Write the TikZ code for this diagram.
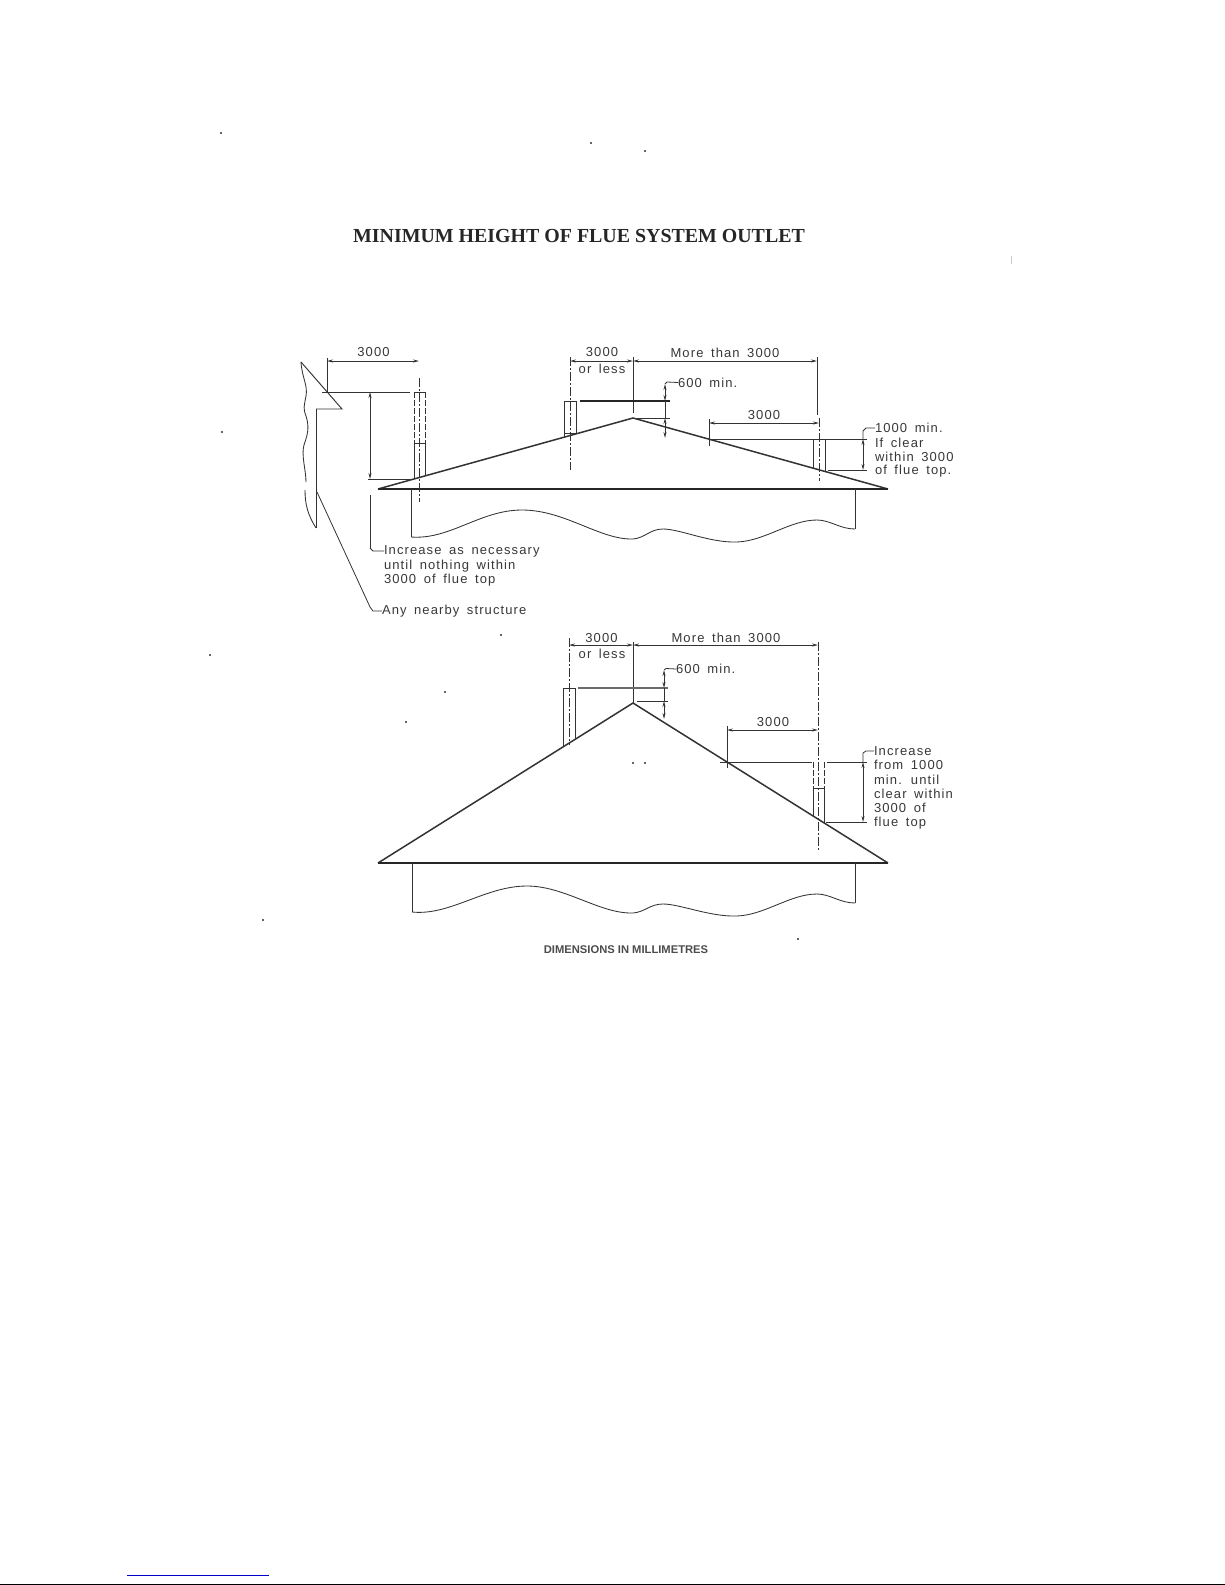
\documentclass[tikz,border=0pt]{standalone}
\usepackage{fontspec}
\setmainfont{Liberation Sans}
\newfontfamily\titlefont{Liberation Serif}
\newfontfamily\dimfont[LetterSpace=8.5,WordSpace=1.6]{Liberation Sans}
\usetikzlibrary{arrows.meta}
\definecolor{ink}{gray}{0.2}
\definecolor{soft}{gray}{0.42}
\tikzset{
  x=1pt,y=-1pt,
  lineart/.style={draw=ink,line width=0.95pt,line join=miter},
  roofline/.style={draw=ink,line width=1.5pt,line join=miter},
  strong/.style={draw=black!85,line width=1.5pt},
  thin line/.style={draw=ink,line width=0.8pt},
  chain/.style={draw=ink,line width=0.8pt,dash pattern=on 9pt off 2pt on 2pt off 2pt},
  hid/.style={draw=ink,line width=0.95pt,dash pattern=on 6pt off 2pt},
  dimline/.style={draw=ink,line width=0.8pt,{Stealth[length=6pt,width=3pt]}-{Stealth[length=6pt,width=3pt]}},
  wave/.style={draw=ink,line width=0.85pt},
  lab/.style={inner sep=0pt,outer sep=0pt,text=black!78,font=\dimfont\fontsize{13}{14}\selectfont},
  lableft/.style={lab,anchor=west},
  speck/.style={fill=black!60,draw=none},
}
\newcommand{\spk}[2]{\fill[speck] (#1-0.7,#2-0.7) rectangle (#1+0.7,#2+0.7);}
\begin{document}
\begin{tikzpicture}
\useasboundingbox (0,0) rectangle (1225,1585);
\fill[white] (0,0) rectangle (1225,1585);

\node[inner sep=0pt,text=black!85,font=\titlefont\bfseries\fontsize{19.9}{24}\selectfont] (title) at (579,236) {MINIMUM HEIGHT OF FLUE SYSTEM OUTLET};

% ---------- nearby structure
\draw[lineart] (301,362) -- (342,409) -- (316,409);
\draw[lineart] (316,409) -- (316,528);
\draw[wave] (301,362) .. controls (302,378) and (308,385) .. (306,396) .. controls (304,407) and (303,408) .. (306,416) .. controls (310,428) and (307,436) .. (304,445) .. controls (301,455) and (306,470) .. (306,482);
\draw[wave] (305,490) .. controls (305,505) and (308,515) .. (316,528);
% first diagram: roof
\draw[roofline] (378,489) -- (633,418) -- (888,489);
\draw[strong] (378,489) -- (888,489);
\draw[lineart] (411,489) -- (411,537);
\draw[wave] (411,537) .. controls (450,540) and (480,510) .. (522,510) .. controls (565,510) and (600,540) .. (633,539) .. controls (645,538) and (650,529) .. (663,529) .. controls (680,529) and (710,543) .. (737,542) .. controls (765,541) and (790,520) .. (817,520) .. controls (830,520) and (840,529) .. (855,529);
\draw[lineart] (855,529) -- (855,489);

% tall flue, left
\draw[hid] (414,392) -- (414,443);
\draw[hid] (425,392) -- (425,443);
\draw[lineart] (414,392) -- (425,392);
\draw[lineart] (414,443) -- (425,443);
\draw[lineart] (414,443) -- (414,478);
\draw[lineart] (425,443) -- (425,475);
\draw[chain] (419,378) -- (419,502);
% 3000 dim
\draw[dimline] (327,361) -- (419,361);
\draw[thin line] (327,358) -- (327,392);
\node[lab] (d1) at (373.5,352) {3000};
\draw[lineart] (322,392) -- (410,392);
\draw[dimline] (370,392) -- (370,479);
\draw[lineart] (368,479) -- (414,479);
\draw[thin line] (370,495) -- (370,548);
\node[lableft] (inc1) at (384,551) {Increase as necessary};
\node[lableft] (inc2) at (384,566) {until nothing within};
\node[lableft] (inc3) at (384,580) {3000 of flue top};
\draw[thin line] (370,548) -- (373,551) -- (inc1.west);
\node[lableft] (any) at (382,611) {Any nearby structure};
\draw[thin line] (317,492) -- (370,607) -- (373,611) -- (any.west);

% flue on near ridge
\draw[lineart] (564,401) rectangle (576,433);
\draw[lineart] (564,433) -- (564,437);
\draw[lineart] (576,433) -- (576,434);
\draw[chain] (570,357) -- (570,470);
\draw[dimline] (570,361) -- (633,361);
\node[lab] (d2) at (602,352.5) {3000};
\node[lab] (d2b) at (602,369) {or less};
\draw[thin line] (633,357) -- (633,413);
\draw[dimline] (633,361) -- (817,361);
\node[lab] (d3) at (725,352.5) {More than 3000};
\draw[thin line] (817,357) -- (817,415);
\draw[strong] (580,401) -- (670,401);
\draw[lineart] (637,418) -- (670,418);
\draw[dimline] (665,384) -- (665,401);
\draw[dimline] (665,418) -- (665,438);
\draw[thin line] (665,401) -- (665,418);
\node[lableft] (m1) at (678,382.5) {600 min.};
\draw[thin line] (665,384) -- (667,382) -- (m1.west);

% right flue
\draw[chain] (819,418) -- (819,481);
\draw[dimline] (709,423) -- (819,423);
\draw[thin line] (709,419) -- (709,446);
\node[lab] (d4) at (764,415) {3000};
\draw[lineart] (709,439) -- (867,439);
\draw[lineart] (813,439) -- (813,468);
\draw[lineart] (825,439) -- (825,471);
\draw[dimline] (863,439) -- (863,470);
\draw[lineart] (828,470) -- (867,470);
\node[lableft] (c1) at (875,428) {1000 min.};
\node[lableft] (c2) at (875,442.5) {If clear};
\node[lableft] (c3) at (875,457) {within 3000};
\node[lableft] (c4) at (875,471) {of flue top.};
\draw[thin line] (863,439) -- (863,431) -- (866,428) -- (c1.west);

% ---------- second diagram
\draw[roofline] (378,863) -- (633,703) -- (888,863);
\draw[strong] (378,863) -- (888,863);
\draw[lineart] (412,863) -- (412,912);
\draw[wave] (412,912) .. controls (450,916) and (485,886) .. (527,886) .. controls (565,886) and (600,914) .. (633,913) .. controls (645,912) and (650,904) .. (663,904) .. controls (680,904) and (710,917) .. (737,916) .. controls (765,915) and (790,894) .. (817,894) .. controls (830,894) and (840,903) .. (855,903);
\draw[lineart] (855,903) -- (855,863);

\draw[lineart] (563,688) -- (563,746);
\draw[lineart] (575,688) -- (575,738);
\draw[lineart] (563,688) -- (575,688);
\draw[chain] (569,638) -- (569,745);
\draw[dimline] (569,645) -- (633,645);
\node[lab] (e2) at (601.5,638) {3000};
\node[lab] (e2b) at (602,654) {or less};
\draw[thin line] (633,642) -- (633,703);
\draw[dimline] (633,645) -- (818,645);
\node[lab] (e3) at (726,638) {More than 3000};
\draw[chain] (818,642) -- (818,850);
\draw[strong,draw=soft] (578,688) -- (668,688);
\draw[lineart] (637,701) -- (668,701);
\draw[dimline] (664,670) -- (664,688);
\draw[dimline] (664,701) -- (664,719);
\draw[thin line] (664,688) -- (664,701);
\node[lableft] (n1) at (676,669) {600 min.};
\draw[thin line] (664,670) -- (666,668.5) -- (n1.west);

\draw[dimline] (727,730) -- (818,730);
\draw[lineart] (727,726) -- (727,768);
\node[lab] (e4) at (773,722) {3000};
\draw[lineart] (720,762) -- (812,762);
\draw[thin line] (827,762) -- (867,762);
\draw[hid] (813,762) -- (813,788);
\draw[hid] (824,762) -- (824,788);
\draw[lineart] (813,788) -- (824,788);
\draw[lineart] (813,788) -- (813,816);
\draw[lineart] (824,788) -- (824,823);
\draw[dimline] (863,762) -- (863,822);
\draw[thin line] (826,822) -- (867,822);
\node[lableft] (f1) at (874,751) {Increase};
\node[lableft] (f2) at (874,765) {from 1000};
\node[lableft] (f3) at (874,779.5) {min. until};
\node[lableft] (f4) at (874,794) {clear within};
\node[lableft] (f5) at (874,808) {3000 of};
\node[lableft] (f6) at (874,823) {flue top};
\draw[thin line] (863,762) -- (863,753) -- (866,751) -- (f1.west);

\node[inner sep=0pt,text=black!70,font=\rmfamily\bfseries\fontsize{11.2}{12}\selectfont] (dims) at (626,950) {DIMENSIONS IN MILLIMETRES};

% scan specks
\spk{221}{133}\spk{591}{143}\spk{645}{151}\spk{222}{432}\spk{210}{655}
\spk{501}{635}\spk{445}{692}\spk{406}{722}\spk{633}{763}\spk{645}{763}
\spk{263}{920}\spk{798}{939}
\fill[black!20] (1011,256) rectangle (1012,264);

% page foot
\draw[draw={rgb,255:red,0;green,0;blue,200},line width=1pt] (127,1575) -- (269,1575);
\draw[black,line width=1.2pt] (0,1584.3) -- (1225,1584.3);
\end{tikzpicture}
\end{document}
